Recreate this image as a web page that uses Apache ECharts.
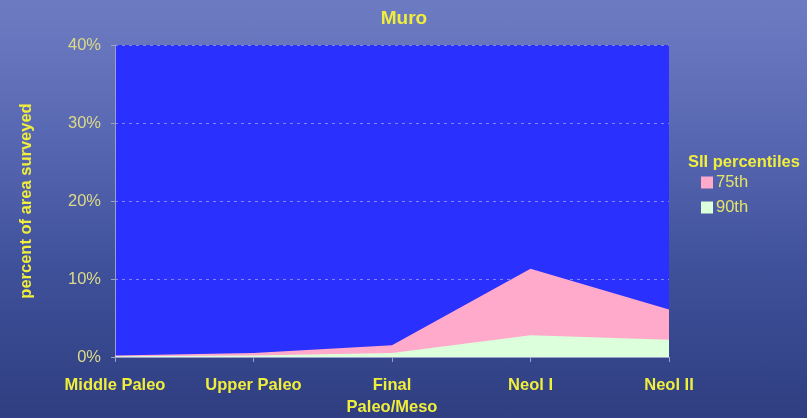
<!DOCTYPE html>
<html>
<head>
<meta charset="utf-8">
<script src="https://cdn.jsdelivr.net/npm/echarts@6/dist/echarts.min.js"></script>
<style>
  html, body { margin: 0; padding: 0; }
  #chart {
    width: 807px; height: 418px;
    background: linear-gradient(180deg, #6d7cc2 0%, #5a69b3 30%, #3f509a 65%, #2f3e80 100%);
  }
</style>
</head>
<body>
<div id="chart"></div>
<script>
// categories and values (percent of area surveyed)
const categories = ["Middle Paleo", "Upper Paleo", "Final\nPaleo/Meso", "Neol I", "Neol II"];
const p75 = [0.2, 0.5, 1.5, 11.3, 6.1];
const p90 = [0.1, 0.2, 0.5, 2.8, 2.2];
const yTicks = [0, 10, 20, 30, 40];

const chart = echarts.init(document.getElementById("chart"));
const yellow = "#f0ee3c";
const fs = 16.5;

chart.setOption({
  animation: false,
  title: [
    {
      text: "Muro",
      left: 399, top: 4, textAlign: "center",
      textStyle: { color: yellow, fontFamily: "Liberation Sans", fontWeight: "bold", fontSize: 19 }
    },
    {
      text: "SII percentiles",
      left: 683, top: 149,
      textStyle: { color: yellow, fontFamily: "Liberation Sans", fontWeight: "bold", fontSize: fs }
    }
  ],
  legend: {
    orient: "vertical",
    left: 696, top: 169,
    itemGap: 8,
    itemWidth: 12, itemHeight: 12,
    icon: "rect",
    textStyle: { color: "#e6e468", fontFamily: "Liberation Sans", fontSize: fs, padding: [0, 0, 0, -2] },
    data: ["75th", "90th"]
  },
  grid: {
    left: 115, right: 138, top: 45, bottom: 58,
    show: true, backgroundColor: "#2a30fd", borderWidth: 0
  },
  xAxis: {
    type: "category",
    data: categories,
    boundaryGap: false,
    axisLine: { lineStyle: { color: "#9aa0c8", width: 1 } },
    axisTick: { show: true, length: 5, lineStyle: { color: "#9aa0c8" } },
    axisLabel: {
      color: yellow, fontFamily: "Liberation Sans", fontWeight: "bold", fontSize: fs,
      margin: 17, lineHeight: 22, interval: 0
    }
  },
  yAxis: {
    type: "value",
    min: 0, max: 40, interval: 10,
    name: "percent of area surveyed",
    nameLocation: "middle",
    nameGap: 80,
    nameTextStyle: { color: yellow, fontFamily: "Liberation Sans", fontWeight: "bold", fontSize: fs },
    axisLine: { show: true, lineStyle: { color: "#9aa0c8" } },
    axisTick: { show: true, length: 4, lineStyle: { color: "#9aa0c8" } },
    axisLabel: {
      color: "#dcda86", fontFamily: "Liberation Sans", fontSize: fs, margin: 14,
      formatter: v => yTicks.includes(v) ? v + "%" : ""
    },
    splitLine: { show: true, lineStyle: { color: "#7f86ee", type: [3, 4], width: 1 } }
  },
  series: [
    {
      name: "75th", type: "line", data: p75,
      symbol: "none", lineStyle: { width: 0 },
      itemStyle: { color: "#ffaacb" },
      areaStyle: { color: "#ffaacb", opacity: 1 }
    },
    {
      name: "90th", type: "line", data: p90,
      symbol: "none", lineStyle: { width: 0 },
      itemStyle: { color: "#dcffdc" },
      areaStyle: { color: "#dcffdc", opacity: 1 }
    }
  ]
});
</script>
</body>
</html>
